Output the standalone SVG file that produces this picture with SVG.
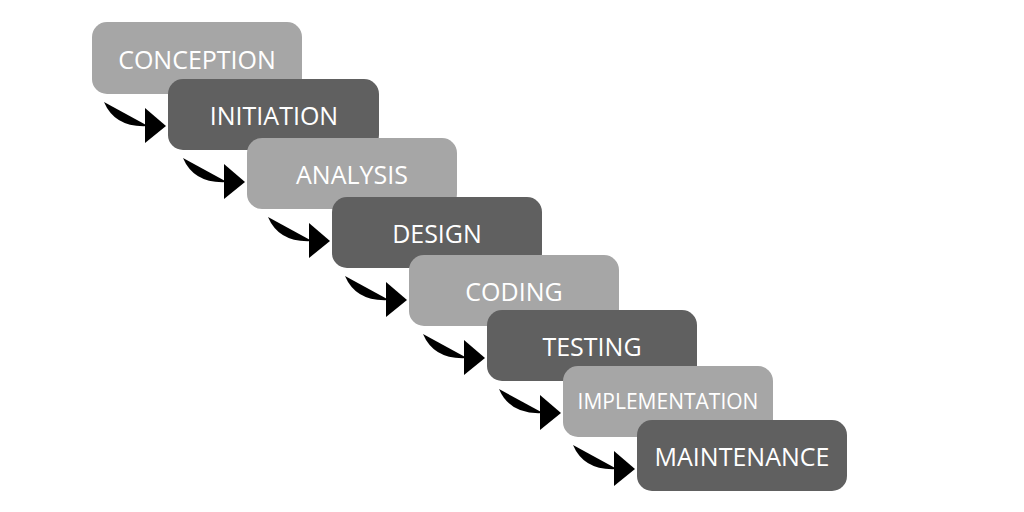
<svg xmlns="http://www.w3.org/2000/svg" width="1024" height="512" viewBox="0 0 1024 512">
<style>
.l{fill:#a6a6a6}.d{fill:#606060}
text{font-family:"Open Sans","DejaVu Sans",sans-serif;font-size:25px;fill:#fff;text-anchor:middle;dominant-baseline:central}
.a path{fill:none;stroke:#f47920;stroke-width:8}.a polygon{fill:#f47920}
</style>
<defs><g id="arr"><path d="M-62,-24 Q-51,2 -18,0"/><polygon points="-21,-18 0,0 -21,17"/></g></defs>
<g id="n1"><rect class="l" x="92" y="22" width="210" height="72" rx="15"/><text x="197" y="59">CONCEPTION</text></g>
<g id="n2"><rect class="d" x="168" y="79" width="211" height="71" rx="15"/><text x="274" y="115">INITIATION</text></g>
<g id="n3"><rect class="l" x="247" y="138" width="210" height="71" rx="15"/><text x="352" y="174">ANALYSIS</text></g>
<g id="n4"><rect class="d" x="332" y="197" width="210" height="71" rx="15"/><text x="437" y="233">DESIGN</text></g>
<g id="n5"><rect class="l" x="409" y="255" width="210" height="71" rx="15"/><text x="514" y="291">CODING</text></g>
<g id="n6"><rect class="d" x="487" y="310" width="210" height="71" rx="15"/><text x="592" y="346">TESTING</text></g>
<g id="n7"><rect class="l" x="563" y="366" width="210" height="71" rx="15"/><text x="668" y="401" style="font-size:21px">IMPLEMENTATION</text></g>
<g id="n8"><rect class="d" x="637" y="420" width="210" height="71" rx="15"/><text x="742" y="456">MAINTENANCE</text></g>
<g id="connectors" class="a">
<use href="#arr" transform="translate(166,126)"/>
<use href="#arr" transform="translate(245,182)"/>
<use href="#arr" transform="translate(330,241)"/>
<use href="#arr" transform="translate(407,300)"/>
<use href="#arr" transform="translate(485,358)"/>
<use href="#arr" transform="translate(561,413)"/>
<use href="#arr" transform="translate(635,469)"/>
</g>
</svg>
